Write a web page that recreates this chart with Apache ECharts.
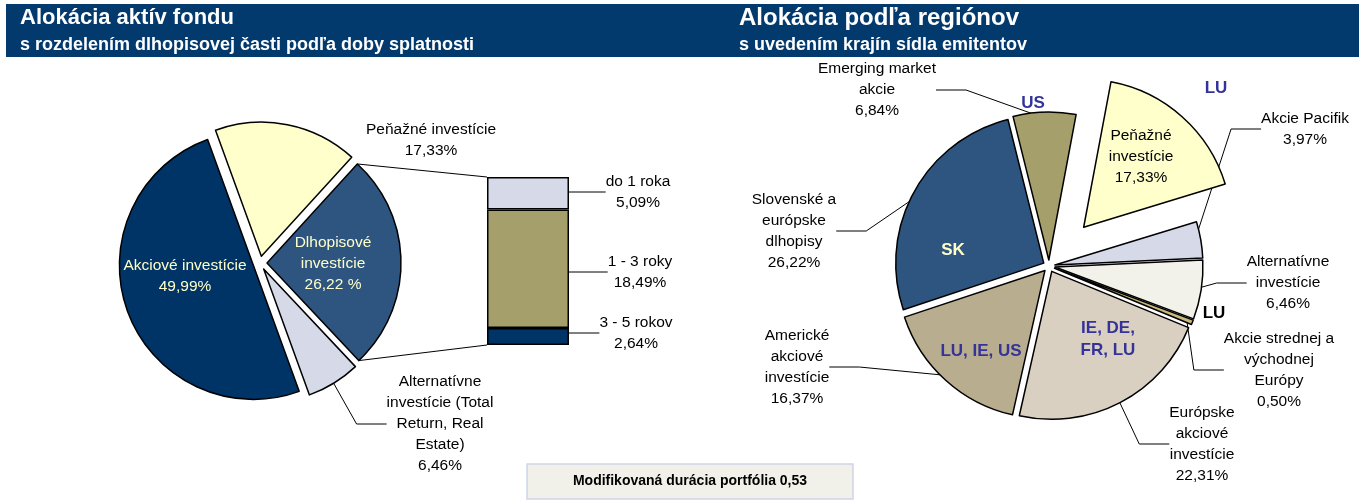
<!DOCTYPE html>
<html>
<head>
<meta charset="utf-8">
<script src="https://cdn.jsdelivr.net/npm/echarts@6/dist/echarts.min.js"></script>
<style>
  html, body { margin: 0; padding: 0; background: #fff; }
  #chart { width: 1361px; height: 500px; }
</style>
</head>
<body>
<div id="chart"></div>
<script>
// --- data: asset allocation (left pie)
const assetLabels = ['Peňažné investície', 'Dlhopisové\ninvestície', 'Alternatívne\ninvestície (Total\nReturn, Real\nEstate)', 'Akciové investície']
const assetValues = [17.33, 26.22, 6.46, 49.99]
const assetUnits = ['%', ' %', '%', '%']

// --- data: bond part split by maturity (stacked bar, bottom to top)
const bondLabels = ['3 - 5 rokov', '1 - 3 roky', 'do 1 roka']
const bondValues = [2.64, 18.49, 5.09]

// --- data: regional allocation (right pie)
const regionLabels = ['Emerging market\nakcie', 'Peňažné\ninvestície', 'Akcie Pacifik', 'Alternatívne\ninvestície', 'Akcie strednej a\nvýchodnej\nEurópy', 'Európske\nakciové\ninvestície', 'Americké\nakciové\ninvestície', 'Slovenské a\neurópske\ndlhopisy']
const regionValues = [6.84, 17.33, 3.97, 6.46, 0.50, 22.31, 16.37, 26.22]
const regionCountries = ['US', 'LU', '', 'LU', '', 'IE, DE,\nFR, LU', 'LU, IE, US', 'SK']

const durationText = 'Modifikovaná durácia portfólia 0,53'

// --- styles
const FONT = '"Liberation Sans", Arial, sans-serif'
const NAVY = '#003366'
const HEADER = '#033a6e'
const assetColors = ['#ffffcc', '#2e5580', '#d6d9e8', NAVY]
const assetTextColors = ['#000', '#ffffcc', '#000', '#ffffcc']
const assetLabelPos = [[431, 140], [333, 264], [440, 424], [185, 276]]
const assetLines = [false, false, true, false]
const bondColors = [NAVY, '#a5a06b', '#d6d9e8']
const bondLabelPos = [[636, 333], [640, 272], [638, 192]]
const regionColors = ['#a5a06b', '#ffffcc', '#d6d9e8', '#f2f1ea', '#c9b97a', '#d9d0c1', '#b8ad8f', '#2e5580']
const regionLabelPos = [[877, 90], [1141, 157], [1305, 129], [1288, 283], [1279, 370], [1202, 444], [797, 367], [794, 231]]
const regionLines = [true, false, true, true, true, true, true, true]
const countryLabelPos = [[1033, 103], [1216, 88], [0, 0], [1214, 313], [0, 0], [1108, 339], [981, 351], [953, 250]]
const countryColors = ['#333399', '#333399', '#333399', '#000', '#333399', '#333399', '#333399', '#ffffcc']

const leftPie = { center: [260, 263], radius: 134, startAngle: 110, offset: 7 }
const rightPie = { center: [1049, 266], radius: 148, startAngle: 104, offset: 6, farOffset: 52 }

const pct = (v, unit) => v.toFixed(2).replace('.', ',') + (unit || '%')
const bondTotal = bondValues.reduce((a, b) => a + b, 0)
const assetTotal = assetValues.reduce((a, b) => a + b, 0)

const textBase = { fontFamily: FONT, fontSize: 15.5, lineHeight: 21, color: '#000', align: 'center' }
const border = { borderColor: '#000', borderWidth: 1.5 }
const hidden = { color: 'rgba(0,0,0,0)', borderWidth: 0 }
const guide = { color: '#000', width: 1 }

// exploded slices, drawn without labels
function slicePie(geo, values, colors, offset, visible) {
	return {
		type: 'pie',
		center: geo.center,
		radius: geo.radius,
		startAngle: geo.startAngle,
		selectedMode: 'multiple',
		selectedOffset: offset,
		silent: true,
		emphasis: { disabled: true },
		itemStyle: border,
		select: { itemStyle: border },
		label: { show: false },
		labelLine: { show: false },
		data: values.map((v, i) => ({
			value: v,
			selected: visible(i),
			itemStyle: visible(i) ? { color: colors[i] } : hidden,
			select: visible(i) ? undefined : { itemStyle: hidden }
		}))
	}
}

// invisible pie carrying the texts
function labelPie(geo, values, texts, positions, lines, labelStyle) {
	return {
		type: 'pie',
		center: geo.center,
		radius: geo.radius,
		startAngle: geo.startAngle,
		silent: true,
		avoidLabelOverlap: false,
		emphasis: { disabled: true },
		itemStyle: hidden,
		label: Object.assign({ position: 'outside' }, labelStyle),
		labelLine: { show: true, lineStyle: guide },
		labelLayout: p => ({ x: positions[p.dataIndex][0], y: positions[p.dataIndex][1], align: 'center', verticalAlign: 'middle' }),
		data: values.map((v, i) => ({
			value: v,
			label: texts[i],
			labelLine: { show: lines[i] }
		}))
	}
}

// pie -> bar connectors: end points of the bond slice arc
function bondArcPoints() {
	const before = assetValues[0] / assetTotal * 360
	const span = assetValues[1] / assetTotal * 360
	const a0 = (leftPie.startAngle - before) * Math.PI / 180
	const a1 = (leftPie.startAngle - before - span) * Math.PI / 180
	const mid = (a0 + a1) / 2
	const cx = leftPie.center[0] + Math.cos(mid) * leftPie.offset
	const cy = leftPie.center[1] - Math.sin(mid) * leftPie.offset
	const r = leftPie.radius
	return [[cx + r * Math.cos(a0), cy - r * Math.sin(a0)], [cx + r * Math.cos(a1), cy - r * Math.sin(a1)]]
}

const chart = echarts.init(document.getElementById('chart'))

chart.setOption({
	animation: false,
	graphic: [
		{ type: 'rect', shape: { x: 6, y: 4, width: 1353, height: 53 }, style: { fill: HEADER }, z: 0 },
		{ type: 'text', x: 20, y: 18, style: { text: 'Alokácia aktív fondu', fill: '#fff', font: 'bold 22px ' + FONT, verticalAlign: 'middle' } },
		{ type: 'text', x: 20, y: 45.5, style: { text: 's rozdelením dlhopisovej časti podľa doby splatnosti', fill: '#fff', font: 'bold 18px ' + FONT, verticalAlign: 'middle' } },
		{ type: 'text', x: 739, y: 18, style: { text: 'Alokácia podľa regiónov', fill: '#fff', font: 'bold 24px ' + FONT, verticalAlign: 'middle' } },
		{ type: 'text', x: 739, y: 45.5, style: { text: 's uvedením krajín sídla emitentov', fill: '#fff', font: 'bold 18px ' + FONT, verticalAlign: 'middle' } },
		{ type: 'rect', shape: { x: 527, y: 464, width: 326, height: 35 }, style: { fill: '#f2f1e9', stroke: '#d0d4e6', lineWidth: 1.5 } },
		{ type: 'text', x: 690, y: 481.5, style: { text: durationText, fill: '#000', font: 'bold 14px ' + FONT, align: 'center', verticalAlign: 'middle' } }
	],
	grid: { left: 487, top: 177, width: 82, height: 168 },
	xAxis: { type: 'category', data: ['dlhopisy'], show: false },
	yAxis: { type: 'value', min: 0, max: bondTotal, show: false },
	series: [
		// stacked bar of the bond part
		...bondValues.map((v, i) => ({
			type: 'bar',
			stack: 'bonds',
			barWidth: '100%',
			data: [v],
			itemStyle: Object.assign({ color: bondColors[i] }, border),
			emphasis: { disabled: true },
			label: Object.assign({ show: true, position: 'right', formatter: bondLabels[i] + '\n' + pct(v) }, textBase),
			labelLine: { show: true, lineStyle: guide },
			labelLayout: () => ({ x: bondLabelPos[i][0], y: bondLabelPos[i][1], align: 'center', verticalAlign: 'middle' })
		})),
		// lines from the bond slice to the bar
		{
			type: 'custom',
			coordinateSystem: 'cartesian2d',
			silent: true,
			data: [[0, bondTotal]],
			renderItem: (params, api) => {
				const top = api.coord([0, bondTotal])
				const bottom = api.coord([0, 0])
				const left = top[0] - api.size([1, 0])[0] / 2
				const pts = bondArcPoints()
				return {
					type: 'group',
					children: [
						{ type: 'line', shape: { x1: pts[0][0], y1: pts[0][1], x2: left, y2: top[1] }, style: { stroke: '#000', lineWidth: 1 } },
						{ type: 'line', shape: { x1: pts[1][0], y1: pts[1][1], x2: left, y2: bottom[1] }, style: { stroke: '#000', lineWidth: 1 } }
					]
				}
			}
		},
		// left pie
		slicePie(leftPie, assetValues, assetColors, leftPie.offset, () => true),
		labelPie(leftPie, assetValues,
			assetValues.map((v, i) => ({ color: assetTextColors[i], formatter: assetLabels[i] + '\n' + pct(v, assetUnits[i]) })),
			assetLabelPos, assetLines, textBase),
		// right pie: all slices but the money-market one, then that one pulled far out
		slicePie(rightPie, regionValues, regionColors, rightPie.offset, i => i !== 1),
		slicePie(rightPie, regionValues, regionColors, rightPie.farOffset, i => i === 1),
		labelPie(rightPie, regionValues,
			regionValues.map((v, i) => ({ formatter: regionLabels[i] + '\n' + pct(v) })),
			regionLabelPos, regionLines, textBase),
		// country codes of the issuers
		labelPie(rightPie, regionValues,
			regionCountries.map((c, i) => ({ show: c !== '', color: countryColors[i], formatter: c })),
			countryLabelPos, regionValues.map(() => false),
			{ fontFamily: FONT, fontSize: 17, fontWeight: 'bold', lineHeight: 22, align: 'center' })
	]
})
</script>
</body>
</html>
